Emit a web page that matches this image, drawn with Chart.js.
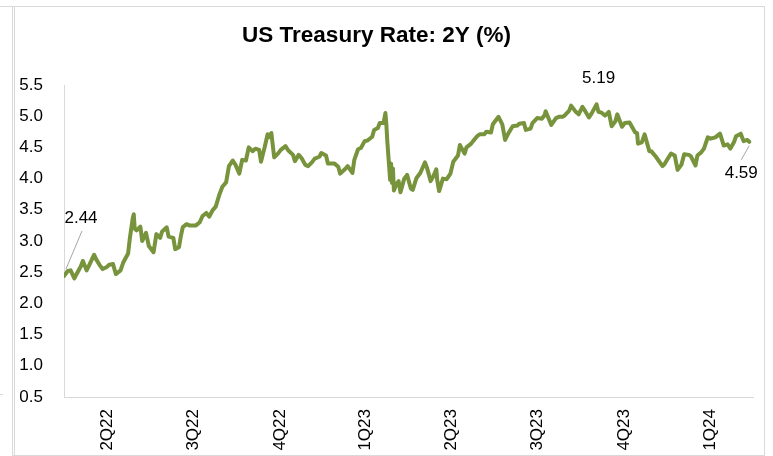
<!DOCTYPE html>
<html>
<head>
<meta charset="utf-8">
<script src="https://cdn.jsdelivr.net/npm/chart.js@4/dist/chart.umd.min.js"></script>
<style>
  html, body { margin: 0; padding: 0; background: #fff; }
  canvas { display: block; }
</style>
</head>
<body>
<canvas id="graph" width="773" height="456"></canvas>
<script>
// 2Y treasury yield
var dates = [
	'2022-04-01','2022-04-05','2022-04-08','2022-04-12','2022-04-14','2022-04-19','2022-04-21','2022-04-25','2022-04-28',
	'2022-05-03','2022-05-05','2022-05-09','2022-05-12','2022-05-16','2022-05-19','2022-05-23','2022-05-26','2022-05-31',
	'2022-06-03','2022-06-08','2022-06-10','2022-06-13','2022-06-14','2022-06-15','2022-06-17','2022-06-21','2022-06-23','2022-06-27','2022-06-30',
	'2022-07-05','2022-07-08','2022-07-12','2022-07-14','2022-07-19','2022-07-21','2022-07-26','2022-07-28',
	'2022-08-01','2022-08-03','2022-08-05','2022-08-09','2022-08-12','2022-08-16','2022-08-19','2022-08-23','2022-08-26','2022-08-30',
	'2022-09-02','2022-09-06','2022-09-09','2022-09-13','2022-09-16','2022-09-20','2022-09-23','2022-09-27','2022-09-30',
	'2022-10-04','2022-10-07','2022-10-11','2022-10-14','2022-10-18','2022-10-21','2022-10-25','2022-10-27','2022-10-31',
	'2022-11-03','2022-11-04','2022-11-07','2022-11-10','2022-11-14','2022-11-17','2022-11-22','2022-11-25','2022-11-30',
	'2022-12-02','2022-12-06','2022-12-09','2022-12-13','2022-12-16','2022-12-20','2022-12-23','2022-12-28','2022-12-30',
	'2023-01-04','2023-01-06','2023-01-10','2023-01-13','2023-01-17','2023-01-19','2023-01-24','2023-01-27',
	'2023-02-01','2023-02-03','2023-02-07','2023-02-10','2023-02-14','2023-02-17','2023-02-22','2023-02-24','2023-02-28',
	'2023-03-02','2023-03-06','2023-03-08','2023-03-09','2023-03-10','2023-03-13','2023-03-14','2023-03-15','2023-03-16','2023-03-17',
	'2023-03-20','2023-03-22','2023-03-24','2023-03-28','2023-03-31',
	'2023-04-04','2023-04-06','2023-04-10','2023-04-14','2023-04-19','2023-04-21','2023-04-25','2023-04-28',
	'2023-05-01','2023-05-02','2023-05-04','2023-05-08','2023-05-12','2023-05-16','2023-05-19','2023-05-24','2023-05-26','2023-05-31',
	'2023-06-02','2023-06-07','2023-06-09','2023-06-14','2023-06-16','2023-06-21','2023-06-23','2023-06-28','2023-06-30',
	'2023-07-06','2023-07-10','2023-07-13','2023-07-17','2023-07-21','2023-07-26','2023-07-28',
	'2023-08-02','2023-08-04','2023-08-09','2023-08-11','2023-08-16','2023-08-21','2023-08-24','2023-08-25','2023-08-31',
	'2023-09-05','2023-09-08','2023-09-12','2023-09-14','2023-09-19','2023-09-21','2023-09-26','2023-09-29',
	'2023-10-03','2023-10-06','2023-10-10','2023-10-13','2023-10-18','2023-10-20','2023-10-23','2023-10-27','2023-10-31',
	'2023-11-03','2023-11-07','2023-11-09','2023-11-14','2023-11-17','2023-11-22','2023-11-28','2023-11-30',
	'2023-12-01','2023-12-05','2023-12-08','2023-12-13','2023-12-15','2023-12-20','2023-12-27','2023-12-29',
	'2024-01-02','2024-01-05','2024-01-09','2024-01-12','2024-01-16','2024-01-19','2024-01-24','2024-01-26','2024-01-31',
	'2024-02-02','2024-02-06','2024-02-09','2024-02-13','2024-02-16','2024-02-21','2024-02-26',
	'2024-03-01','2024-03-05','2024-03-08','2024-03-12','2024-03-14','2024-03-19','2024-03-22','2024-03-26','2024-03-28'
];
var rates = [
	2.44,2.52,2.53,2.40,2.46,2.60,2.68,2.53,2.62,
	2.78,2.71,2.61,2.55,2.58,2.62,2.63,2.47,2.53,
	2.66,2.80,3.06,3.37,3.43,3.20,3.17,3.23,3.00,3.13,2.92,
	2.82,3.11,3.05,3.15,3.22,3.07,3.05,2.87,
	2.90,3.08,3.22,3.27,3.25,3.25,3.25,3.30,3.40,3.45,
	3.39,3.50,3.55,3.75,3.87,3.94,4.20,4.29,4.22,
	4.08,4.30,4.29,4.50,4.44,4.48,4.46,4.27,4.51,
	4.71,4.66,4.73,4.34,4.40,4.46,4.52,4.45,4.38,
	4.28,4.38,4.33,4.22,4.20,4.26,4.32,4.35,4.41,
	4.37,4.24,4.24,4.24,4.19,4.08,4.15,4.20,
	4.09,4.30,4.47,4.49,4.60,4.61,4.67,4.78,4.81,
	4.89,4.89,5.05,4.87,4.60,3.98,4.24,3.93,4.16,3.81,
	3.92,3.96,3.78,4.00,4.06,
	3.84,3.82,4.01,4.09,4.26,4.18,3.96,4.04,
	4.15,3.97,3.80,4.00,3.99,4.08,4.27,4.37,4.54,4.40,
	4.50,4.56,4.60,4.69,4.71,4.71,4.75,4.74,4.87,
	4.99,4.87,4.62,4.74,4.84,4.85,4.88,
	4.89,4.78,4.80,4.89,4.97,4.96,5.02,5.08,4.86,
	4.97,4.99,4.99,5.01,5.09,5.17,5.07,5.03,
	5.15,5.08,4.98,5.05,5.19,5.07,5.06,5.01,5.07,
	4.84,4.92,5.03,4.83,4.89,4.90,4.74,4.73,
	4.56,4.58,4.71,4.44,4.44,4.35,4.20,4.23,
	4.33,4.40,4.37,4.14,4.22,4.39,4.38,4.36,4.21,
	4.37,4.42,4.48,4.66,4.64,4.66,4.72,
	4.53,4.55,4.48,4.59,4.68,4.72,4.60,4.62,4.59
];
var quarterLabels = ['2Q22','3Q22','4Q22','1Q23','2Q23','3Q23','4Q23','1Q24'];
var quarterStarts = ['2022-04-01','2022-07-01','2022-10-01','2023-01-01','2023-04-01','2023-07-01','2023-10-01','2024-01-01','2024-04-01'];
var yTicks = [0.5,1.0,1.5,2.0,2.5,3.0,3.5,4.0,4.5,5.0,5.5];

var FONT = '"Liberation Sans", Arial, sans-serif';
var day0 = Date.parse(quarterStarts[0]);
function dayOf(d) { return (Date.parse(d) - day0) / 86400000; }

var points = dates.map(function(d, i) { return {x: dayOf(d), y: rates[i]}; });
var quarterMids = quarterLabels.map(function(q, i) {
	return (dayOf(quarterStarts[i]) + dayOf(quarterStarts[i + 1])) / 2;
});

// frame around the picture
var frame = {
	id: 'frame',
	beforeDraw: function(chart) {
		var ctx = chart.ctx;
		ctx.save();
		ctx.fillStyle = '#fff';
		ctx.fillRect(0, 0, chart.width, chart.height);
		ctx.strokeStyle = '#d9d9d9';
		ctx.lineWidth = 1;
		ctx.beginPath();
		ctx.moveTo(0, 6.5); ctx.lineTo(765, 6.5);
		ctx.moveTo(12.5, 6); ctx.lineTo(12.5, 456);
		ctx.moveTo(14.5, 6); ctx.lineTo(14.5, 456);
		ctx.moveTo(764.5, 6); ctx.lineTo(764.5, 456);
		ctx.moveTo(12, 455.5); ctx.lineTo(765, 455.5);
		ctx.moveTo(0, 394.5); ctx.lineTo(3, 394.5);
		ctx.stroke();
		ctx.restore();
	}
};

// value callouts: first, highest and last point
var callouts = {
	id: 'callouts',
	afterDatasetsDraw: function(chart) {
		var ctx = chart.ctx;
		var pts = chart.getDatasetMeta(0).data;
		var first = 0, last = rates.length - 1;
		var peak = rates.indexOf(Math.max.apply(null, rates));
		ctx.save();
		ctx.strokeStyle = '#a6a6a6';
		ctx.lineWidth = 1;
		ctx.fillStyle = '#000';
		ctx.font = '17px ' + FONT;
		ctx.textAlign = 'center';
		ctx.textBaseline = 'middle';

		var p = pts[first];
		ctx.beginPath(); ctx.moveTo(p.x + 2, p.y - 7); ctx.lineTo(p.x + 18, p.y - 45); ctx.stroke();
		ctx.fillText(rates[first].toFixed(2), p.x + 17, p.y - 58);

		p = pts[peak];
		ctx.fillText(rates[peak].toFixed(2), p.x + 2, p.y - 26);

		p = pts[last];
		ctx.beginPath(); ctx.moveTo(p.x, p.y + 4); ctx.lineTo(p.x - 8, p.y + 18); ctx.stroke();
		ctx.fillText(rates[last].toFixed(2), p.x - 8, p.y + 32);
		ctx.restore();
	}
};

var ctx = document.getElementById('graph').getContext('2d');
var myChart = new Chart(ctx, {
	type: 'line',
	data: {
		datasets: [{
			label: 'US Treasury Rate: 2Y (%)',
			data: points,
			borderColor: '#77933C',
			backgroundColor: '#77933C',
			borderWidth: 4,
			borderJoinStyle: 'round',
			borderCapStyle: 'round',
			pointRadius: 0,
			tension: 0,
			fill: false
		}]
	},
	options: {
		responsive: false,
		animation: false,
		layout: { padding: { left: 0, right: 20, top: 0, bottom: 0 } },
		plugins: {
			legend: { display: false },
			tooltip: { enabled: false },
			title: {
				display: true,
				text: 'US Treasury Rate: 2Y (%)',
				color: '#000',
				font: { family: FONT, size: 22.5, weight: 'bold' },
				padding: { top: 22, bottom: 36 }
			}
		},
		scales: {
			x: {
				type: 'linear',
				min: 0,
				max: dayOf(quarterStarts[quarterStarts.length - 1]),
				grid: { display: false, drawTicks: false },
				border: { display: true, color: '#d9d9d9', width: 1 },
				afterBuildTicks: function(scale) {
					scale.ticks = quarterMids.map(function(v) { return {value: v}; });
				},
				afterFit: function(scale) { scale.height = 59; },
				ticks: {
					autoSkip: false,
					minRotation: 90,
					maxRotation: 90,
					padding: 12,
					color: '#000',
					font: { family: FONT, size: 17 },
					callback: function(value, index) { return quarterLabels[index]; }
				}
			},
			y: {
				min: yTicks[0],
				max: yTicks[yTicks.length - 1],
				grid: { display: false, drawTicks: false },
				border: { display: true, color: '#d9d9d9', width: 1 },
				afterBuildTicks: function(scale) {
					scale.ticks = yTicks.map(function(v) { return {value: v}; });
				},
				afterFit: function(scale) { scale.width = 64; },
				ticks: {
					padding: 21,
					color: '#000',
					font: { family: FONT, size: 17 },
					callback: function(value) { return Number(value).toFixed(1); }
				}
			}
		}
	},
	plugins: [frame, callouts]
});
</script>
</body>
</html>
